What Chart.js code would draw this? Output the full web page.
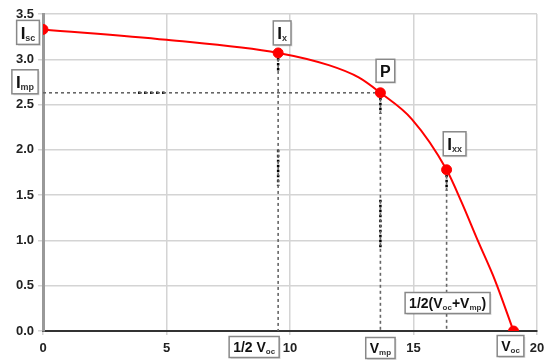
<!DOCTYPE html>
<html><head><meta charset="utf-8">
<script src="https://cdn.jsdelivr.net/npm/chart.js@4.4.0/dist/chart.umd.min.js"></script>
<style>html,body{margin:0;padding:0;background:#fff}#wrap{width:545px;height:363px}</style>
</head><body><div id="wrap"><canvas id="c" width="545" height="363"></canvas></div>
<script>
// I-V curve values
const voltage = [0, 5, 9.52, 11.57, 12.78, 13.66, 14.93, 16.34, 16.95, 17.6, 18.3, 19.05];
const current = [3.33, 3.215, 3.07, 2.935, 2.80, 2.63, 2.34, 1.78, 1.42, 1.0, 0.56, 0];
// key points: Isc, Ix, P(mp), Ixx, Voc
const keyNames = ['Isc', 'Ix', 'P', 'Ixx', 'Voc'];
const keyV = [0, 9.52, 13.66, 16.34, 19.05];
const keyI = [3.33, 3.07, 2.63, 1.78, 0];
const xTicks = [0, 5, 10, 15, 20];
const yTicks = [0, 0.5, 1.0, 1.5, 2.0, 2.5, 3.0, 3.5];

const curve = voltage.map((v, i) => ({x: v, y: current[i]}));
const keys = keyV.map((v, i) => ({x: v, y: keyI[i]}));

function guide(pts, color, dash, w) {
  return {type: 'line', data: pts, borderColor: color, borderWidth: w, borderDash: dash,
    pointRadius: 0, fill: false, tension: 0, order: 5};
}
const gray = '#666';
const datasets = [
  // Imp horizontal
  guide([{x: 0, y: keyI[2]}, {x: keyV[2], y: keyI[2]}], gray, [3, 3], 1.6),
  guide([{x: 3.85, y: keyI[2]}, {x: 4.95, y: keyI[2]}], '#000', [2.5, 3.5], 2.5),
  // Ix vertical (1/2 Voc)
  guide([{x: keyV[1], y: keyI[1]}, {x: keyV[1], y: -0.1}], gray, [3, 3], 1.6),
  guide([{x: keyV[1], y: keyI[1]}, {x: keyV[1], y: 2.85}], '#000', [2.5, 2.5], 2.5),
  guide([{x: keyV[1], y: 2.0}, {x: keyV[1], y: 1.6}], '#000', [2.5, 2.5], 2.5),
  // P vertical (Vmp)
  guide([{x: keyV[2], y: keyI[2]}, {x: keyV[2], y: -0.1}], gray, [3, 3], 1.6),
  guide([{x: keyV[2], y: keyI[2]}, {x: keyV[2], y: 2.4}], '#000', [2.5, 2.5], 2.5),
  guide([{x: keyV[2], y: 1.45}, {x: keyV[2], y: 0.9}], '#000', [2.5, 2.5], 2.5),
  // Ixx vertical
  guide([{x: keyV[3], y: keyI[3]}, {x: keyV[3], y: 0}], gray, [3, 3], 1.6),
  guide([{x: keyV[3], y: keyI[3]}, {x: keyV[3], y: 1.55}], '#000', [2.5, 2.5], 2.5),
  {type: 'line', data: curve, borderColor: '#ff0000', borderWidth: 2, pointRadius: 0,
    cubicInterpolationMode: 'monotone', fill: false, order: 2},
  {type: 'scatter', data: keys, backgroundColor: '#ff0000', borderColor: '#ff0000',
    pointRadius: 5, order: 1}
];

// label boxes: segments, anchor (v, i), offsets, font size
const labelStyle = [
  {segs: [['I', 0], ['sc', 1]], v: keyV[0], i: keyI[0], dx: -15, dy: 3, fs: 17},
  {segs: [['I', 0], ['mp', 1]], v: 0, i: keyI[2], dx: -18, dy: -11, fs: 17},
  {segs: [['I', 0], ['x', 1]], v: keyV[1], i: keyI[1], dx: 4, dy: -20, fs: 17},
  {segs: [['P', 0]], v: keyV[2], i: keyI[2], dx: 5, dy: -22, fs: 16},
  {segs: [['I', 0], ['xx', 1]], v: keyV[3], i: keyI[3], dx: 8, dy: -26, fs: 17},
  {segs: [['1/2(V', 0], ['oc', 1], ['+V', 0], ['mp', 1], [')', 0]], v: keyV[3], i: 0, dx: 1, dy: -28, fs: 14},
  {segs: [['1/2 V', 0], ['oc', 1]], v: keyV[1], i: 0, dx: -24, dy: 16, fs: 14},
  {segs: [['V', 0], ['mp', 1]], v: keyV[2], i: 0, dx: 0, dy: 17, fs: 14},
  {segs: [['V', 0], ['oc', 1]], v: keyV[4], i: 0, dx: -3, dy: 15, fs: 14}
];

const labelPlugin = {
  id: 'labels',
  afterDraw(chart) {
    const ctx = chart.ctx, xs = chart.scales.x, ys = chart.scales.y;
    ctx.save();
    labelStyle.forEach(L => {
      const cx = xs.getPixelForValue(L.v) + L.dx;
      const cy = ys.getPixelForValue(L.i) + L.dy;
      const mainF = 'bold ' + L.fs + 'px "Liberation Sans", Arial, sans-serif';
      const subF = 'bold ' + Math.round(L.fs * 0.55) + 'px "Liberation Sans", Arial, sans-serif';
      let w = 0;
      L.segs.forEach(s => { ctx.font = s[1] ? subF : mainF; w += ctx.measureText(s[0]).width; });
      const bw = w + 8, bh = Math.max(20, L.fs + 7);
      const bx = cx - bw / 2, by = cy - bh / 2;
      ctx.fillStyle = 'rgba(0,0,0,0.12)';
      ctx.fillRect(bx + 1.5, by + 1.5, bw, bh);
      ctx.fillStyle = '#fff';
      ctx.fillRect(bx, by, bw, bh);
      ctx.strokeStyle = '#888';
      ctx.lineWidth = 1.5;
      ctx.strokeRect(bx, by, bw, bh);
      let x = bx + 4;
      const base = cy + L.fs * 0.36;
      ctx.textBaseline = 'alphabetic';
      ctx.textAlign = 'left';
      L.segs.forEach(s => {
        ctx.font = s[1] ? subF : mainF;
        ctx.fillStyle = s[1] ? '#333' : '#111';
        ctx.fillText(s[0], x, s[1] ? base + 2 : base);
        x += ctx.measureText(s[0]).width;
      });
    });
    ctx.restore();
  }
};

new Chart(document.getElementById('c'), {
  data: {datasets},
  options: {
    responsive: false, animation: false,
    layout: {padding: {top: 14, right: 0, left: 0, bottom: 0}},
    plugins: {legend: {display: false}, tooltip: {enabled: false}},
    scales: {
      x: {type: 'linear', min: 0, max: 20,
        afterBuildTicks: s => { s.ticks = xTicks.map(v => ({value: v})); },
        afterFit: s => { s.height = 32; s.paddingRight = 8; s.paddingLeft = 0; },
        grid: {color: '#d4d4d4', lineWidth: 1.5, tickLength: 4, drawTicks: true},
        border: {color: '#333', width: 2},
        ticks: {color: '#222', padding: 6, font: {family: '"Liberation Sans", Arial', size: 13, weight: 'bold'},
          callback: v => String(v)}
      },
      y: {type: 'linear', min: 0, max: 3.5,
        afterBuildTicks: s => { s.ticks = yTicks.map(v => ({value: v})); },
        afterFit: s => { s.width = 43; s.paddingTop = 0; s.paddingBottom = 0; },
        grid: {color: '#d4d4d4', lineWidth: 1.5, tickLength: 5, drawTicks: true},
        border: {color: '#999', width: 3},
        ticks: {color: '#222', padding: 4, font: {family: '"Liberation Sans", Arial', size: 13, weight: 'bold'},
          callback: v => Number(v).toFixed(1)}
      }
    }
  },
  plugins: [labelPlugin]
});
</script></body></html>
